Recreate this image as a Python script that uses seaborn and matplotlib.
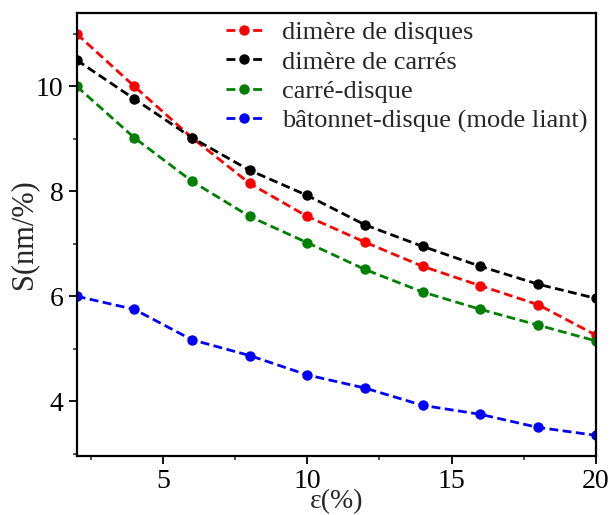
import matplotlib
matplotlib.use("Agg")
import matplotlib.pyplot as plt
from matplotlib.ticker import MultipleLocator
import seaborn as sns
import pandas as pd

# Strain values (%)
strain = [2, 4, 6, 8, 10, 12, 14, 16, 18, 20]

# Sensitivity S (nm/%) for each configuration
dimere_disques = [11.00, 10.00, 9.02, 8.15, 7.52, 7.03, 6.57, 6.20, 5.84, 5.26]
dimere_carres = [10.50, 9.76, 9.02, 8.40, 7.92, 7.36, 6.95, 6.57, 6.23, 5.96]
carre_disque = [10.00, 9.02, 8.19, 7.52, 7.02, 6.51, 6.08, 5.75, 5.45, 5.15]
batonnet_disque = [6.00, 5.75, 5.17, 4.87, 4.50, 4.25, 3.92, 3.75, 3.50, 3.35]

labels = ["dimère de disques", "dimère de carrés", "carré-disque",
          "bâtonnet-disque (mode liant)"]
colors = ["red", "black", "green", "blue"]
series = [dimere_disques, dimere_carres, carre_disque, batonnet_disque]

sns.set_theme(style="ticks")
plt.rcParams["font.family"] = ["Liberation Serif", "DejaVu Serif"]

fig = plt.figure(figsize=(6.11, 5.15), dpi=100)
ax = fig.add_axes([0.1255, 0.115, 0.8495, 0.86])

for vals, lab, col in zip(series, labels, colors):
    df = pd.DataFrame({"x": strain, "y": vals})
    sns.lineplot(data=df, x="x", y="y", ax=ax, color=col, linestyle="--",
                 dashes=False, linewidth=2.0, marker="o", markersize=7.5,
                 markeredgewidth=0, label=lab)
for ln in ax.lines:
    ln.set_dashes((3.2, 1.6))

ax.set_xlim(2, 20)
ax.set_ylim(2.96, 11.4)
ax.xaxis.set_major_locator(MultipleLocator(5))
ax.xaxis.set_minor_locator(MultipleLocator(2.5))
ax.yaxis.set_major_locator(MultipleLocator(2))
ax.yaxis.set_minor_locator(MultipleLocator(1))

ax.tick_params(axis="both", which="major", direction="out", length=6,
               width=1.3, labelsize=20, colors="black")
ax.tick_params(axis="both", which="minor", direction="out", length=3,
               width=1.1)
for sp in ax.spines.values():
    sp.set_linewidth(1.6)
    sp.set_color("black")

ax.set_xlabel("ε(%)", fontsize=20, labelpad=-3.5)
ax.set_ylabel("S(nm/%)", fontsize=22, labelpad=-2)

leg = ax.legend(loc="upper right", frameon=False, fontsize=19,
                handlelength=1.4, handletextpad=0.75, labelspacing=0.22,
                borderaxespad=0.05, borderpad=0.25)
for h in leg.legend_handles:
    h.set_dashes((3.2, 1.6))

fig.savefig("out.png", dpi=100)
